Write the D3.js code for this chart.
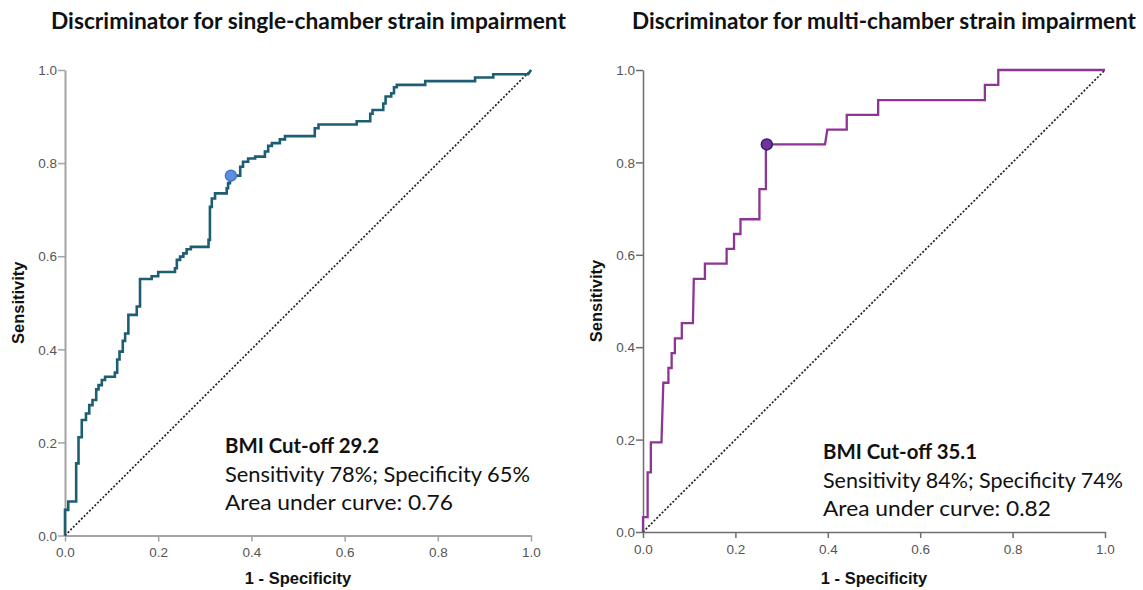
<!DOCTYPE html>
<html>
<head>
<meta charset="utf-8">
<script src="https://cdn.jsdelivr.net/npm/d3@7"></script>
<style>
  body { margin: 0; background: #fff; }
  svg { display: block; }
</style>
</head>
<body>
<div class="graph"></div>
<script>
// data
var ticks = [0, 0.2, 0.4, 0.6, 0.8, 1.0];

var singleFpr = [0, 0, .007, .007, .024, .024, .029, .029, .036, .036, .045, .045, .052, .052, .059, .059, .067, .067, .072, .072, .079, .079, .086, .086, .107, .107, .112, .112, .117, .117, .124, .124, .129, .129, .136, .136, .154, .154, .161, .161, .186, .186, .200, .200, .236, .236, .240, .240, .247, .247, .254, .254, .261, .261, .270, .270, .308, .308, .311, .311, .315, .315, .322, .322, .347, .347, .350, .350, .354, .354, .376, .376, .382, .382, .393, .393, .408, .408, .429, .429, .436, .436, .444, .444, .461, .461, .472, .472, .536, .536, .544, .544, .626, .626, .655, .655, .660, .660, .683, .683, .688, .688, .700, .700, .706, .706, .712, .712, .773, .773, .880, .880, .919, .919, .994, 1];
var singleTpr = [0, .055, .055, .073, .073, .155, .155, .211, .211, .248, .248, .262, .262, .280, .280, .291, .291, .314, .314, .323, .323, .334, .334, .341, .341, .350, .350, .378, .378, .395, .395, .418, .418, .434, .434, .474, .474, .492, .492, .551, .551, .557, .557, .566, .566, .574, .574, .592, .592, .599, .599, .606, .606, .615, .615, .620, .620, .635, .635, .706, .706, .724, .724, .735, .735, .746, .746, .757, .757, .773, .773, .792, .792, .803, .803, .810, .810, .814, .814, .825, .825, .837, .837, .843, .843, .851, .851, .858, .858, .875, .875, .883, .883, .890, .890, .906, .906, .914, .914, .928, .928, .943, .943, .950, .950, .963, .963, .968, .968, .976, .976, .984, .984, .991, .991, 1];

var multiFpr = [0, 0, .010, .010, .017, .017, .040, .044, .055, .055, .062, .062, .069, .069, .084, .084, .108, .110, .134, .134, .181, .181, .197, .197, .211, .211, .252, .252, .266, .266, .394, .399, .441, .441, .509, .509, .740, .740, .769, .769, 1];
var multiTpr = [0, .032, .032, .129, .129, .194, .194, .323, .323, .355, .355, .387, .387, .419, .419, .452, .452, .548, .548, .581, .581, .613, .613, .645, .645, .677, .677, .742, .742, .839, .839, .871, .871, .903, .903, .935, .935, .968, .968, 1, 1];

// chosen cut-off points
var cutFpr = [0.356, 0.268];
var cutTpr = [0.773, 0.839];

var titles = ['Discriminator for single-chamber strain impairment', 'Discriminator for multi-chamber strain impairment'];
var cutLabels = ['BMI Cut-off 29.2', 'BMI Cut-off 35.1'];
var statLabels = ['Sensitivity 78%; Specificity 65%', 'Sensitivity 84%; Specificity 74%'];
var aucLabels = ['Area under curve: 0.76', 'Area under curve: 0.82'];

var basewidth = 1143;
var baseheight = 590;

var svg = d3.select('.graph')
    .append('svg')
    .attr('width', basewidth)
    .attr('height', baseheight)

// per-panel layout
var panels = [
    {
        fpr: singleFpr, tpr: singleTpr,
        left: 65, right: 531, top: 70, bottom: 535.5,
        line: '#1e5e73', lineWidth: 2.6,
        dotFill: '#5b8fe0', dotStroke: '#4676c8',
        axisColor: '#a3a3a3', axisWidth: 2,
        titleX: 51, titleW: 515,
        textX: 225, textY: 453, statW: 305, aucW: 228, cutW: 154,
        yTitleX: 24, xTitleY: 584
    },
    {
        fpr: multiFpr, tpr: multiTpr,
        left: 643, right: 1105, top: 70, bottom: 532,
        line: '#8d3595', lineWidth: 2.3,
        dotFill: '#7a2e9e', dotStroke: '#1c2b6e',
        axisColor: '#6e6e6e', axisWidth: 1.5,
        titleX: 632, titleW: 504,
        textX: 823, textY: 459, statW: 300, aucW: 228, cutW: 154,
        yTitleX: 602, xTitleY: 584
    }
]

panels.forEach(function(p, i) {
    var x = d3.scaleLinear().domain([0, 1]).range([p.left, p.right])
    var y = d3.scaleLinear().domain([0, 1]).range([p.bottom, p.top])
    var g = svg.append('g')

    // title
    g.append('text')
        .attr('x', p.titleX)
        .attr('y', 29)
        .attr('textLength', p.titleW)
        .attr('lengthAdjust', 'spacingAndGlyphs')
        .style('font-family', 'Lato, "Noto Sans", sans-serif')
        .style('font-weight', 'bold')
        .style('font-size', '22px')
        .style('fill', '#111')
        .text(titles[i])

    // axes
    var yAxis = g.append('g')
        .attr('transform', 'translate(' + p.left + ',0)')
        .call(d3.axisLeft(y).tickValues(ticks).tickFormat(d3.format('.1f')).tickSize(7).tickSizeOuter(0))
    var xAxis = g.append('g')
        .attr('transform', 'translate(0,' + p.bottom + ')')
        .call(d3.axisBottom(x).tickValues(ticks).tickFormat(d3.format('.1f')).tickSize(6).tickSizeOuter(0))

    ;[yAxis, xAxis].forEach(function(a) {
        a.select('.domain').attr('stroke', p.axisColor).attr('stroke-width', p.axisWidth)
        a.selectAll('.tick line').attr('stroke', p.axisColor).attr('stroke-width', 1.5)
        a.selectAll('.tick text')
            .style('font-family', '"Liberation Sans", Arial, sans-serif')
            .style('font-size', '13.5px')
            .style('fill', '#555')
    })
    yAxis.selectAll('.tick text').attr('x', -8).attr('dy', '0.35em')
    xAxis.selectAll('.tick text').attr('y', 12)

    // axis titles
    g.append('text')
        .attr('transform', 'translate(' + p.yTitleX + ',' + ((p.top + p.bottom) / 2) + ') rotate(-90)')
        .attr('text-anchor', 'middle')
        .style('font-family', '"Liberation Sans", Arial, sans-serif')
        .style('font-weight', 'bold')
        .style('font-size', '16.5px')
        .style('fill', '#111')
        .text('Sensitivity')
    g.append('text')
        .attr('x', (p.left + p.right) / 2)
        .attr('y', p.xTitleY)
        .attr('text-anchor', 'middle')
        .style('font-family', '"Liberation Sans", Arial, sans-serif')
        .style('font-weight', 'bold')
        .style('font-size', '16.5px')
        .style('fill', '#111')
        .text('1 - Specificity')

    // reference diagonal
    g.append('line')
        .attr('x1', x(0)).attr('y1', y(0))
        .attr('x2', x(1)).attr('y2', y(1))
        .attr('stroke', '#222')
        .attr('stroke-width', 1.7)
        .attr('stroke-dasharray', '2,1.8')

    // roc curve
    var pts = p.fpr.map(function(d, k) { return [d, p.tpr[k]] })
    var line = d3.line()
        .x(function(d) { return x(d[0]) })
        .y(function(d) { return y(d[1]) })
    g.append('path')
        .attr('d', line(pts))
        .attr('fill', 'none')
        .attr('stroke', p.line)
        .attr('stroke-width', p.lineWidth)
        .attr('stroke-linejoin', 'miter')

    // cut-off marker
    g.append('circle')
        .attr('cx', x(cutFpr[i]))
        .attr('cy', y(cutTpr[i]))
        .attr('r', 5.5)
        .attr('fill', p.dotFill)
        .attr('stroke', p.dotStroke)
        .attr('stroke-width', 1.5)

    // annotation
    var lines = [cutLabels[i], statLabels[i], aucLabels[i]]
    var widths = [p.cutW, p.statW, p.aucW]
    lines.forEach(function(t, k) {
        g.append('text')
            .attr('x', p.textX)
            .attr('y', p.textY + k * 28.5)
            .attr('textLength', widths[k])
            .attr('lengthAdjust', 'spacingAndGlyphs')
            .style('font-family', 'Lato, "Noto Sans", sans-serif')
            .style('font-weight', k == 0 ? 'bold' : 'normal')
            .style('font-size', '21px')
            .style('fill', '#111')
            .text(t)
    })
})
</script>
</body>
</html>
